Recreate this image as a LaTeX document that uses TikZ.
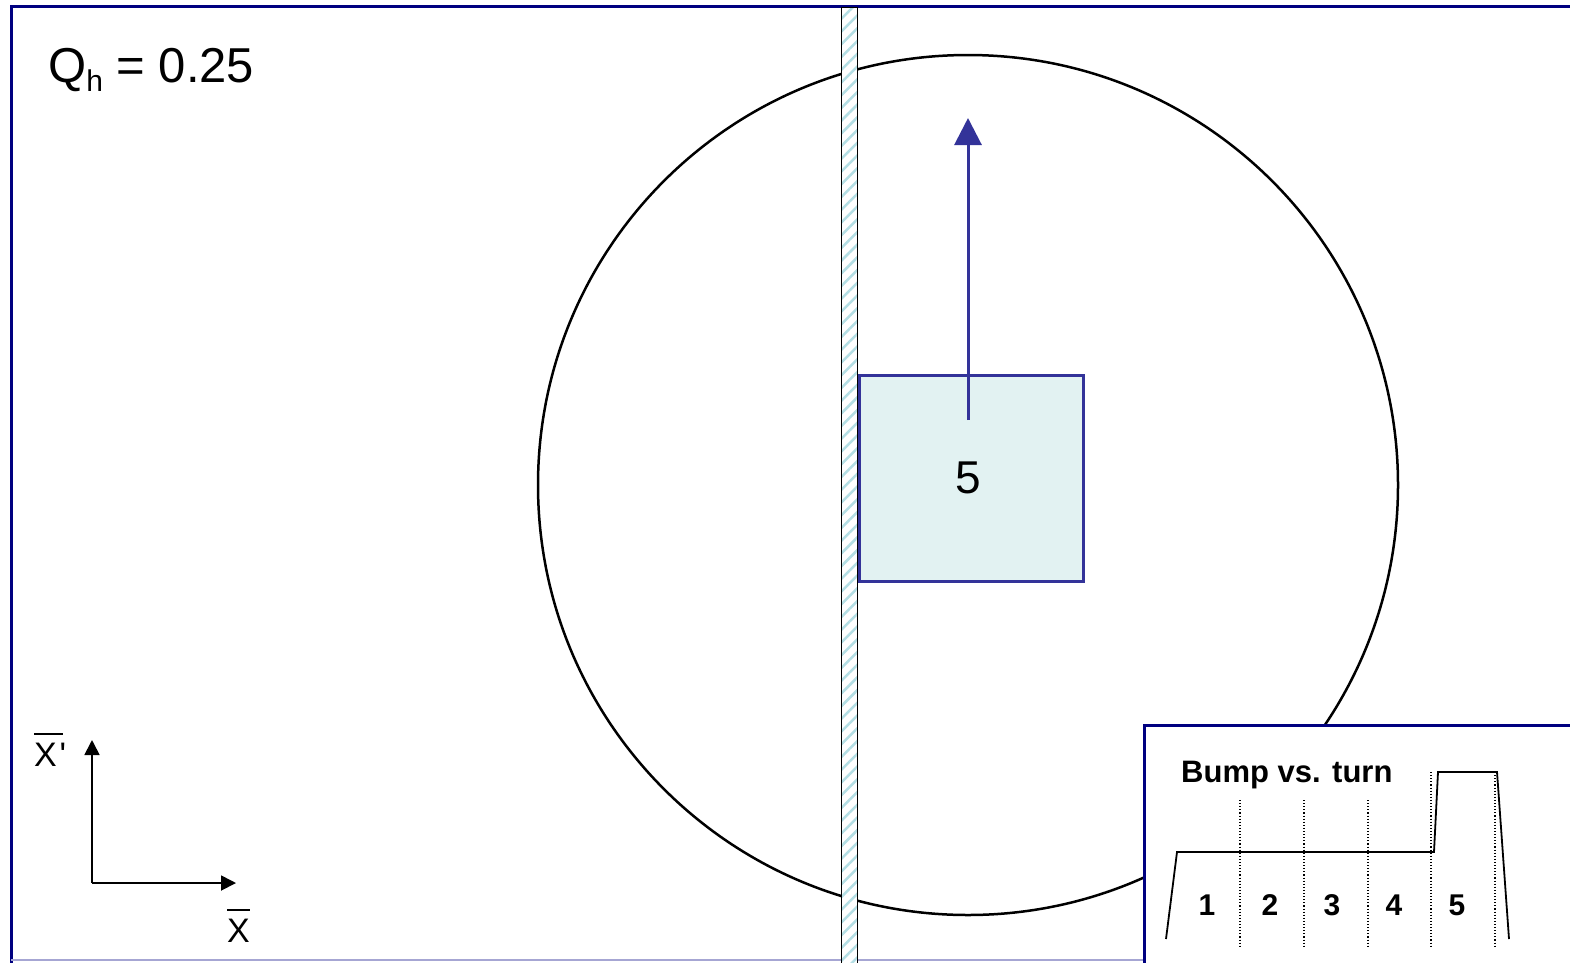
\documentclass[tikz,border=0pt]{standalone}
\usepackage{fontspec}
\setmainfont{Liberation Sans}
\usetikzlibrary{arrows.meta,patterns.meta}
\definecolor{frameblue}{RGB}{0,0,128}
\definecolor{cellblue}{RGB}{51,51,153}
\definecolor{cellfill}{RGB}{226,242,242}
\definecolor{hatch}{RGB}{180,222,228}
\newcommand{\fsz}[1]{\fontsize{#1}{#1}\selectfont}
\newcommand{\obar}[1]{\leavevmode\vbox{\hrule height 2pt\kern 8pt\hbox{#1}}}
\begin{document}
\begin{tikzpicture}[x=1pt,y=-1pt,
  axis/.style={line width=1.8pt,-{Triangle[length=15pt,width=15pt]}},
  axlabel/.style={font=\fsz{34},anchor=base west,inner sep=0pt},
  binline/.style={line width=1.1pt,dotted},
  binnum/.style={font=\fsz{30}\bfseries}]
\useasboundingbox (0,0) rectangle (1570,962);
% frame
\draw[frameblue,line width=3pt] (11,965)--(11,6)--(1575,6);
\draw[frameblue!35,line width=1.5pt] (11,960)--(1575,960);
% beam ellipse and septum
\draw[line width=2.5pt] (968,485) circle (430);
\fill[white] (841,7) rectangle (857,965);
\fill[pattern={Lines[angle=45,distance=9pt,line width=2.5pt]},pattern color=hatch] (841,7) rectangle (857,965);
\draw[line width=1pt] (841,967)--(841,7)--(857,7)--(857,967);
% moving cell
\node[draw=cellblue,fill=cellfill,line width=3pt,minimum width=224pt,minimum height=206pt,inner sep=0pt,anchor=north west] (cell) at (858,374) {};
\node[font=\fsz{46}] (num) at (968,478) {5};
\coordinate (tail) at (968,420); \coordinate (head) at (968,118);
\draw[cellblue,line width=3pt,-{Triangle[length=27pt,width=27pt]}] (tail)--(head);
\node[font=\fsz{49},anchor=base west,inner sep=0pt] (qh) at (48,82) {Q\raisebox{-9pt}{\fsz{30}h} = 0.25};
% axes
\coordinate (origin) at (92,883);
\coordinate (xp) at (92,740); \coordinate (x) at (236,883);
\draw[axis] (origin)--(xp); \draw[axis] (origin)--(x);
\node[axlabel] (lblxp) at (34,766) {\obar{X\,}\kern-3pt\textquotesingle};
\node[axlabel] (lblx) at (227,942) {\obar{X}};
% inset
\fill[white] (1144,725) rectangle (1575,965);
\draw[frameblue,line width=3pt] (1575,725)--(1144,725)--(1144,965);
\node[font=\fsz{31}\bfseries,anchor=base west,inner sep=0pt] (title) at (1181,782) {Bump vs. turn};
\draw[line width=1.8pt] (1166,939)--(1177,852)--(1434,852)--(1438,772)--(1497,772)--(1509,939);
\foreach \bx in {1240,1304,1368} \draw[binline] (\bx,800)--(\bx,946);
\foreach \bx in {1431,1495} \draw[binline] (\bx,772)--(\bx,946);
\foreach \n/\bx in {1/1207,2/1270,3/1332,4/1394,5/1457}
  \node[binnum] (bin\n) at (\bx,905) {\n};
\end{tikzpicture}
\end{document}
